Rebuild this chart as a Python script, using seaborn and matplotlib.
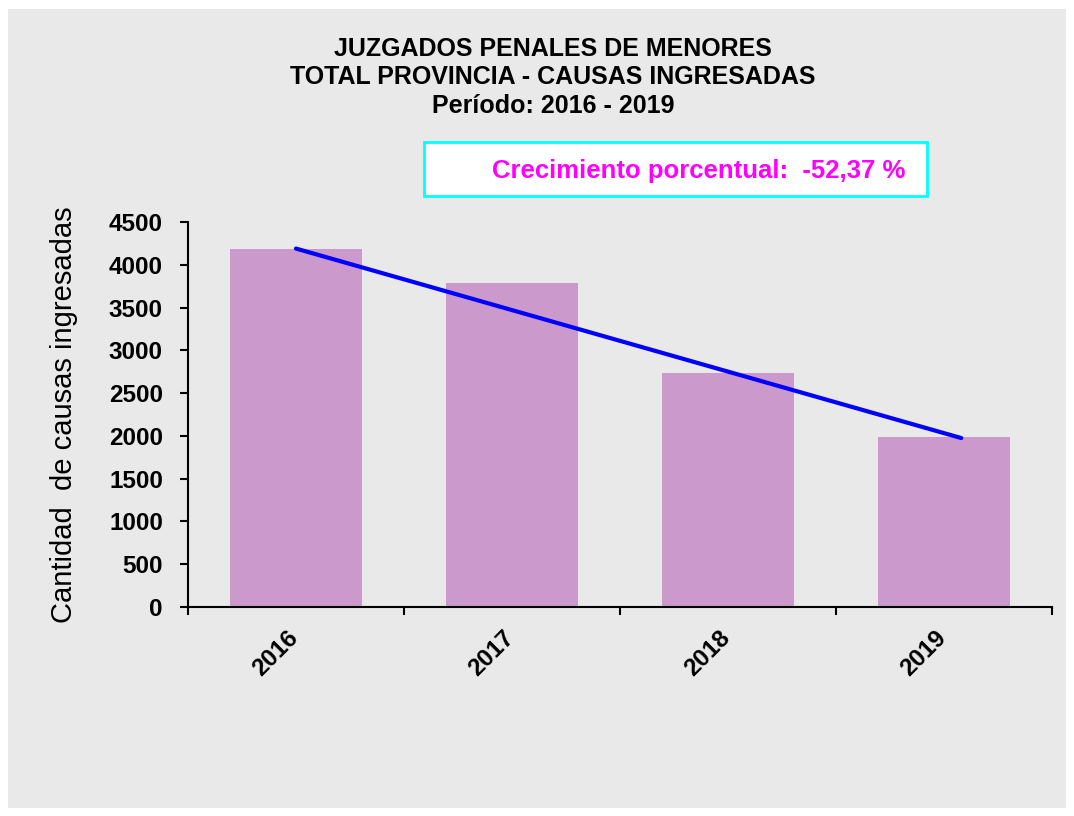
import matplotlib
matplotlib.use('Agg')
import matplotlib.pyplot as plt
from matplotlib.patches import Rectangle
from matplotlib.transforms import ScaledTranslation
import seaborn as sns
import pandas as pd

# data
years = ['2016', '2017', '2018', '2019']
causas = [4184, 3788, 2737, 1993]
# trend line ends (first and last year)
trend_x = [0, 3.08]
trend_y = [4190, 1975]
y_ticks = [0, 500, 1000, 1500, 2000, 2500, 3000, 3500, 4000, 4500]
crecimiento = '-52,37'

sns.set_theme(style='white')
plt.rcParams['font.family'] = ['Liberation Sans', 'DejaVu Sans']
plt.rcParams['text.color'] = 'black'
plt.rcParams['xtick.color'] = 'black'
plt.rcParams['ytick.color'] = 'black'

df = pd.DataFrame({'anio': years, 'causas': causas})

fig = plt.figure(figsize=(10.74, 8.16), dpi=100)
fig.patch.set_facecolor('white')

### gray background panel
fig.patches.append(Rectangle((8 / 1074, 1 - 808 / 816), 1058 / 1074, 799 / 816,
                             transform=fig.transFigure, facecolor='#e9e9e9',
                             edgecolor='none', zorder=-2))

### growth box
fig.patches.append(Rectangle((0.3948, 0.7598), 0.4683, 0.0662, transform=fig.transFigure,
                             facecolor='white', edgecolor='#00ffff', linewidth=2, zorder=-1))

ax = fig.add_axes([0.175, 0.2561, 0.8045, 0.4718])
ax.patch.set_alpha(0)

sns.barplot(data=df, x='anio', y='causas', color='#cc99cc', width=0.615,
            saturation=1, linewidth=0, edgecolor='none', ax=ax, zorder=2)
ax.plot(trend_x, trend_y, color='#0000ff', linewidth=3, zorder=3)

ax.set_xlim(-0.5, 3.5)
ax.set_ylim(0, 4500)
ax.set_yticks(y_ticks)
ax.set_yticklabels([str(v) for v in y_ticks], fontsize=17.5, fontweight='bold')
ax.set_xticks(range(len(years)))
ax.set_xticklabels(years, rotation=45, ha='right', fontsize=17.5, fontweight='bold')
ax.set_xticks([-0.5, 0.5, 1.5, 2.5, 3.5], minor=True)
ax.tick_params(axis='x', which='major', length=0, pad=14)
ax.tick_params(axis='x', which='minor', length=6, width=1.5, color='black', direction='out', bottom=True)
ax.tick_params(axis='y', length=6, width=1.5, color='black', direction='out', left=True, pad=12)
ax.set_xlabel('')
ax.set_ylabel('')

# nudge the rotated year labels a little to the right
shift = ScaledTranslation(7 / 100, 0, fig.dpi_scale_trans)
for lbl in ax.get_xticklabels():
    lbl.set_transform(lbl.get_transform() + shift)

for s in ['top', 'right']:
    ax.spines[s].set_visible(False)
for s in ['left', 'bottom']:
    ax.spines[s].set_color('black')
    ax.spines[s].set_linewidth(1.5)

fig.text(0.0600, 0.4914, 'Cantidad  de causas ingresadas', rotation=90,
         ha='center', va='center', fontsize=21, color='black')

### title
fig.text(0.515, 0.9400, 'JUZGADOS PENALES DE MENORES', ha='center', va='center',
         fontsize=18, fontweight='bold')
fig.text(0.515, 0.9055, 'TOTAL PROVINCIA - CAUSAS INGRESADAS', ha='center', va='center',
         fontsize=18, fontweight='bold')
fig.text(0.515, 0.8705, 'Período: 2016 - 2019', ha='center', va='center',
         fontsize=18, fontweight='bold')

fig.text(0.651, 0.7904, f'Crecimiento porcentual:  {crecimiento} %', ha='center', va='center',
         fontsize=18.5, fontweight='bold', color='#ff00ff')

fig.savefig('out.png', dpi=100)
